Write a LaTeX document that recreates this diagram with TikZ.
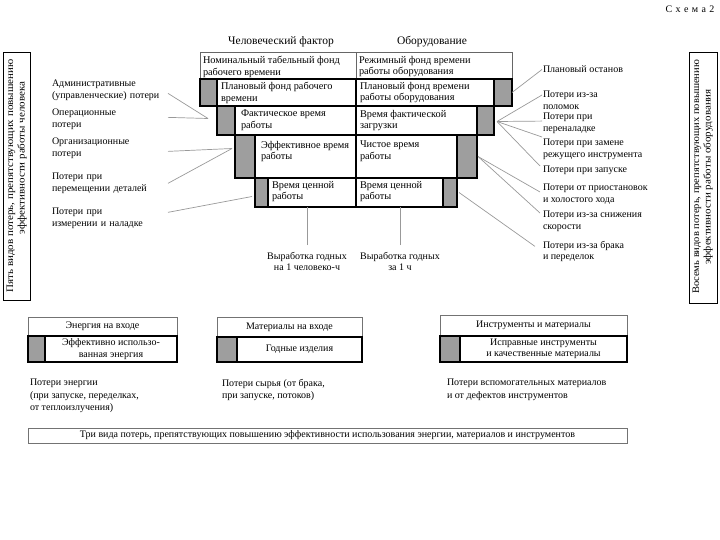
\documentclass[tikz,border=0pt]{standalone}
\usepackage{fontspec}
\setmainfont{Liberation Serif}
\begin{document}
\begin{tikzpicture}[x=1pt,y=-1pt,
  every node/.style={font=\fontsize{10}{11.5}\selectfont, inner sep=0pt, outer sep=0pt},
  topcell/.style={draw=black!60, line width=0.7pt, fill=white, anchor=north west},
  whitecell/.style={draw=black, line width=1.1pt, fill=white, anchor=north west},
  graycell/.style={draw=black, line width=1.1pt, fill=black!38, anchor=north west},
  conn/.style={draw=black!40, line width=0.7pt},
  celltxt/.style={align=left, anchor=north west, font=\fontsize{10.3}{11.8}\selectfont},
  leftlbl/.style={align=left, anchor=north west, text width=116pt, font=\fontsize{10}{12}\selectfont},
  rightlbl/.style={align=left, anchor=north west, font=\fontsize{10}{11.5}\selectfont},
  head/.style={font=\fontsize{11.5}{13}\selectfont},
  vbox/.style={draw=black, line width=0.9pt, anchor=north west},
  thinbox/.style={draw=black!55, line width=0.7pt, anchor=north west}
]
\useasboundingbox (0,0) rectangle (720,540);

% title
\node (title) at (690,9) {С\,\,х\,\,е\,\,м\,\,а\,\,2};

% column headers
\node[head] (hL) at (281,42) {Человеческий фактор};
\node[head] (hR) at (432,42) {Оборудование};

% row 1
\node[topcell, minimum width=156, minimum height=27] (w1l) at (200,52) {};
\node[topcell, minimum width=156, minimum height=27] (w1r) at (356,52) {};
% row 2
\node[whitecell, minimum width=139, minimum height=27] (w2l) at (217,79) {};
\node[whitecell, minimum width=138, minimum height=27] (w2r) at (356,79) {};
\node[graycell, minimum width=17, minimum height=27] (g2l) at (200,79) {};
\node[graycell, minimum width=18, minimum height=27] (g2r) at (494,79) {};
% row 3
\node[whitecell, minimum width=121, minimum height=29] (w3l) at (235,106) {};
\node[whitecell, minimum width=121, minimum height=29] (w3r) at (356,106) {};
\node[graycell, minimum width=18, minimum height=29] (g3l) at (217,106) {};
\node[graycell, minimum width=17, minimum height=29] (g3r) at (477,106) {};
% row 4
\node[whitecell, minimum width=101, minimum height=43] (w4l) at (255,135) {};
\node[whitecell, minimum width=101, minimum height=43] (w4r) at (356,135) {};
\node[graycell, minimum width=20, minimum height=43] (g4l) at (235,135) {};
\node[graycell, minimum width=20, minimum height=43] (g4r) at (457,135) {};
% row 5
\node[whitecell, minimum width=88, minimum height=29] (w5l) at (268,178) {};
\node[whitecell, minimum width=87, minimum height=29] (w5r) at (356,178) {};
\node[graycell, minimum width=13, minimum height=29] (g5l) at (255,178) {};
\node[graycell, minimum width=14, minimum height=29] (g5r) at (443,178) {};

% cell texts
\node[celltxt] (t1l) at ([shift={(3,4)}]w1l.north west) {Номинальный табельный фонд\\рабочего времени};
\node[celltxt] (t1r) at ([shift={(3,4)}]w1r.north west) {Режимный фонд времени\\работы оборудования};
\node[celltxt] (t2l) at ([shift={(4,3)}]w2l.north west) {Плановый фонд рабочего\\времени};
\node[celltxt] (t2r) at ([shift={(4,3)}]w2r.north west) {Плановый фонд времени\\работы оборудования};
\node[celltxt] (t3l) at ([shift={(6,4)}]w3l.north west) {Фактическое время\\работы};
\node[celltxt] (t3r) at ([shift={(4,4)}]w3r.north west) {Время фактической\\загрузки};
\node[celltxt] (t4l) at ([shift={(6,6)}]w4l.north west) {Эффективное время\\работы};
\node[celltxt] (t4r) at ([shift={(4,6)}]w4r.north west) {Чистое время\\работы};
\node[celltxt] (t5l) at ([shift={(4,3)}]w5l.north west) {Время ценной\\работы};
\node[celltxt] (t5r) at ([shift={(4,3)}]w5r.north west) {Время ценной\\работы};

% outputs
\node[align=center, anchor=north] (out1) at (307,252) {Выработка годных\\на 1 человеко-ч};
\node[align=center, anchor=north] (out2) at (400,252) {Выработка годных\\за 1 ч};
\draw[conn] (out1.north) ++(0,-7) -- (out1.north |- w5l.south);
\draw[conn] (out2.north) ++(0,-7) -- (out2.north |- w5r.south);

% left vertical box
\node[vbox, minimum width=27, minimum height=248] (lbox) at (3,52) {};
\node[rotate=90, font=\fontsize{10}{11}\selectfont] (lb1) at (11,176) {\scalebox{1.1}[1]{Пять видов потерь, препятствующих повышению}};
\node[rotate=90, font=\fontsize{10}{11}\selectfont] (lb2) at (22,158) {\scalebox{1.1}[1]{эффективности работы человека}};

% right vertical box
\node[vbox, minimum width=28, minimum height=251] (rbox) at (689,52) {};
\node[rotate=90, font=\fontsize{10}{11}\selectfont] (rb1) at (697,177) {\scalebox{1.05}[1]{Восемь видов потерь, препятствующих повышению}};
\node[rotate=90, font=\fontsize{10}{11}\selectfont] (rb2) at (708,177) {\scalebox{1.1}[1]{эффективности работы оборудования}};

% left labels
\node[leftlbl] (L1) at (52,80) {Административные\\(управленческие) потери};
\node[leftlbl] (L2) at (52,109) {Операционные\\потери};
\node[leftlbl] (L3) at (52,138) {Организационные\\потери};
\node[leftlbl] (L4) at (52,173) {Потери при\\перемещении деталей};
\node[leftlbl] (L5) at (52,208) {Потери при\\измерении и наладке};

\coordinate (cA) at ([shift={(-9,-2)}]g3l.west);
\coordinate (cB) at ([shift={(-3,-8)}]g4l.west);
\coordinate (cC) at ([shift={(-3,4)}]g5l.west);
\draw[conn] ([shift={(0,3)}]L1.east) -- (cA);
\draw[conn] ([shift={(0,-2)}]L2.east) -- (cA);
\draw[conn] ([shift={(0,3)}]L3.east) -- (cB);
\draw[conn] ([shift={(0,0)}]L4.east) -- (cB);
\draw[conn] ([shift={(0,-6)}]L5.east) -- (cC);

% right labels
\node[rightlbl] (R1) at (543,66) {Плановый останов};
\node[rightlbl] (R2) at (543,91) {Потери из-за\\поломок};
\node[rightlbl] (R3) at (543,113) {Потери при\\переналадке};
\node[rightlbl] (R4) at (543,139) {Потери при замене\\режущего инструмента};
\node[rightlbl] (R5) at (543,166) {Потери при запуске};
\node[rightlbl] (R6) at (543,184) {Потери от приостановок\\и холостого хода};
\node[rightlbl] (R7) at (543,211) {Потери из-за снижения\\скорости};
\node[rightlbl] (R8) at (543,241) {Потери из-за брака\\и переделок};

\coordinate (hub3) at ([shift={(3,1)}]g3r.east);
\coordinate (hub4) at ([shift={(1,0)}]g4r.east);
\coordinate (hub5) at ([shift={(2,0)}]g5r.east);
\draw[conn] (g2r.east) -- ([shift={(-1,0)}]R1.west);
\draw[conn] (hub3) -- ([shift={(-1,4)}]R2.north west);
\draw[conn] (hub3) -- ([shift={(-1,-2)}]R3.west);
\draw[conn] (hub3) -- ([shift={(-1,-2)}]R4.north west);
\draw[conn] (hub3) -- ([shift={(-3,0)}]R5.north west);
\draw[conn] (hub4) -- ([shift={(-3,-2)}]R6.west);
\draw[conn] (hub4) -- ([shift={(-3,2)}]R7.north west);
\draw[conn] (hub5) -- ([shift={(-8,-5)}]R8.west);

% bottom boxes
\node[thinbox, minimum width=149, minimum height=19] (e1) at (28,317) {};
\node[whitecell, minimum width=132, minimum height=26] (e2) at (45,336) {};
\node[graycell, minimum width=17, minimum height=26] (e3) at (28,336) {};
\node (e1t) at (e1.center) {Энергия на входе};
\node[align=center] (e2t) at (e2.center) {Эффективно использо-\\ванная энергия};

\node[thinbox, minimum width=145, minimum height=20] (m1) at (217,317) {};
\node[whitecell, minimum width=125, minimum height=25] (m2) at (237,337) {};
\node[graycell, minimum width=20, minimum height=25] (m3) at (217,337) {};
\node (m1t) at (m1.center) {Материалы на входе};
\node (m2t) at (m2.center) {Годные изделия};

\node[thinbox, minimum width=187, minimum height=21] (i1) at (440,315) {};
\node[whitecell, minimum width=167, minimum height=26] (i2) at (460,336) {};
\node[graycell, minimum width=20, minimum height=26] (i3) at (440,336) {};
\node (i1t) at (i1.center) {Инструменты и материалы};
\node[align=center] (i2t) at (i2.center) {Исправные инструменты\\и качественные материалы};

% bottom loss texts
\node[align=left, anchor=north west, font=\fontsize{10}{12.5}\selectfont] (p1) at (30,379) {Потери энергии\\(при запуске, переделках,\\от теплоизлучения)};
\node[align=left, anchor=north west, font=\fontsize{10}{12.5}\selectfont] (p2) at (222,379) {Потери сырья (от брака,\\при запуске, потоков)};
\node[align=left, anchor=north west, font=\fontsize{10}{12.5}\selectfont] (p3) at (447,379) {Потери вспомогательных материалов\\и от дефектов инструментов};

% bottom bar
\node[thinbox, minimum width=599, minimum height=15] (bar) at (28,428) {};
\node (bart) at (bar.center) {Три вида потерь, препятствующих повышению эффективности использования энергии, материалов и инструментов};

\end{tikzpicture}
\end{document}
